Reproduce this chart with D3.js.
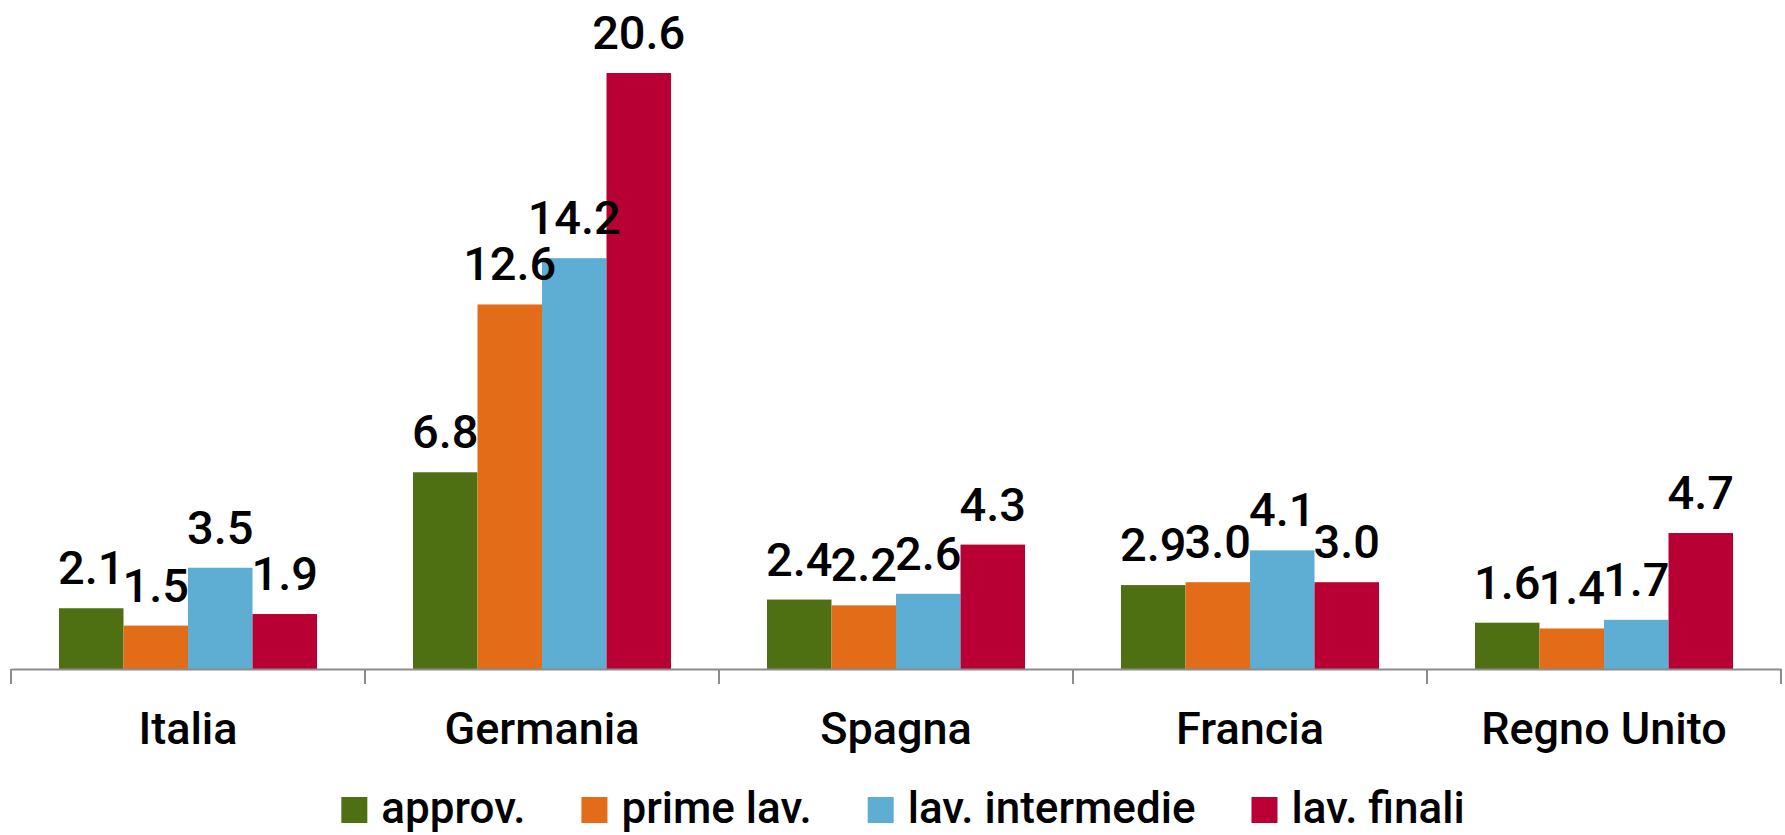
<!DOCTYPE html>
<html>
<head>
<meta charset="utf-8">
<script src="https://cdn.jsdelivr.net/npm/d3@7"></script>
<style>
	body { margin: 0; background: #fff; }
	svg { display: block; font-family: Roboto, "Liberation Sans", sans-serif; font-weight: 500; }
</style>
</head>
<body>
<svg width="1785" height="835"></svg>
<script>
const categories = ["Italia", "Germania", "Spagna", "Francia", "Regno Unito"]
const series = ["approv.", "prime lav.", "lav. intermedie", "lav. finali"]
const approv = [2.1, 6.8, 2.4, 2.9, 1.6]
const primeLav = [1.5, 12.6, 2.2, 3.0, 1.4]
const lavIntermedie = [3.5, 14.2, 2.6, 4.1, 1.7]
const lavFinali = [1.9, 20.6, 4.3, 3.0, 4.7]
const colors = ["#4f7012", "#e36c18", "#5eaed4", "#b90034"]

const values = [approv, primeLav, lavIntermedie, lavFinali]
const rows = categories.map((c, i) => ({
	cat: c,
	vals: series.map((s, j) => ({ key: s, idx: j, v: values[j][i] })),
}))

var svg = d3.select("svg"),
	width = +svg.attr("width"),
	height = +svg.attr("height")

const baseY = 669
const x0 = d3.scaleBand().domain(categories).range([11, 1781])
const x1 = d3
	.scaleBand()
	.domain(series)
	.range([0, x0.bandwidth()])
	.paddingOuter(0.744)
const y = d3.scaleLinear().domain([0, d3.max(lavFinali)]).range([baseY, 73])

// bars
const group = svg
	.selectAll(".grp")
	.data(rows)
	.enter()
	.append("g")
	.attr("class", "grp")
	.attr("transform", (d) => "translate(" + x0(d.cat) + ",0)")

group
	.selectAll("rect")
	.data((d) => d.vals)
	.enter()
	.append("rect")
	.attr("x", (d) => x1(d.key))
	.attr("y", (d) => y(d.v))
	.attr("width", x1.bandwidth())
	.attr("height", (d) => baseY - y(d.v))
	.attr("fill", (d) => colors[d.idx])

group
	.selectAll(".lbl")
	.data((d) => d.vals)
	.enter()
	.append("text")
	.attr("class", "lbl")
	.attr("x", (d) => x1(d.key) + x1.bandwidth() / 2)
	.attr("y", (d) => y(d.v) - 24)
	.attr("text-anchor", "middle")
	.style("font-size", "47px")
	.style("fill", "#000")
	.text((d) => d3.format(".1f")(d.v))

// axis
const axis = svg
	.append("g")
	.attr("transform", "translate(0," + baseY + ")")
	.call(d3.axisBottom(x0).tickSize(0).tickSizeOuter(0))
axis.select(".domain").attr("stroke", "#8c8c8c").attr("stroke-width", 2)
axis
	.selectAll(".tick text")
	.attr("dy", 0)
	.attr("y", 75)
	.style("font-size", "45px")
	.style("font-family", "Roboto, 'Liberation Sans', sans-serif")
	.style("font-weight", 500)
	.style("fill", "#000")

const bounds = categories.map((c) => x0(c)).concat([x0.range()[1]])
svg
	.selectAll(".sep")
	.data(bounds)
	.enter()
	.append("line")
	.attr("class", "sep")
	.attr("x1", (d) => d)
	.attr("x2", (d) => d)
	.attr("y1", baseY)
	.attr("y2", baseY + 15)
	.attr("stroke", "#8c8c8c")
	.attr("stroke-width", 2)

// legend
const legend = svg.append("g")
const items = legend
	.selectAll(".item")
	.data(series)
	.enter()
	.append("g")
	.attr("class", "item")
items
	.append("rect")
	.attr("width", 26)
	.attr("height", 26)
	.attr("y", 797)
	.attr("fill", (d, i) => colors[i])
items
	.append("text")
	.attr("x", 40)
	.attr("y", 823)
	.style("font-size", "44px")
	.style("fill", "#000")
	.text((d) => d)

let pos = 0
const offsets = []
items.each(function () {
	offsets.push(pos)
	const w = d3.select(this).select("text").node().getComputedTextLength()
	pos += 40 + w + 56
})
const total = pos - 56
const startX = 903 - total / 2
items.attr("transform", (d, i) => "translate(" + (startX + offsets[i]) + ",0)")
</script>
</body>
</html>
